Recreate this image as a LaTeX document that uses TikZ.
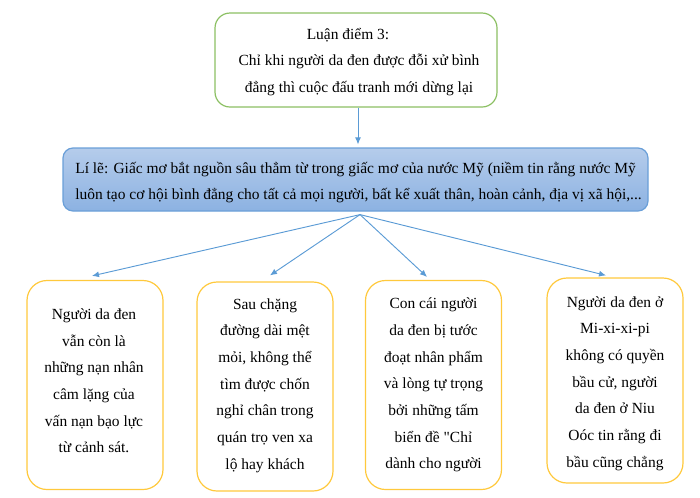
\documentclass[tikz,border=0pt]{standalone}
\usepackage{fontspec}
\setmainfont{Liberation Serif}[Ligatures=TeXOff]
\usetikzlibrary{arrows.meta,calc}
\definecolor{gborder}{HTML}{8CC063}
\definecolor{bborder}{HTML}{6A9FD8}
\definecolor{btop}{HTML}{B5CCEB}
\definecolor{bbot}{HTML}{8CB2E2}
\definecolor{yborder}{HTML}{FFC93C}
\definecolor{arrowc}{HTML}{5B9BD5}
\tikzset{
  basebox/.style={draw, line width=0.9pt, inner sep=0pt},
  topbox/.style={basebox, draw=gborder, rounded corners=11.25pt, fill=white,
    minimum width=211.5pt, minimum height=70.5pt},
  lilebox/.style={basebox, draw=bborder, rounded corners=7.5pt, top color=btop, bottom color=bbot,
    minimum width=438.75pt, minimum height=47.25pt},
  leafbox/.style={basebox, draw=yborder, rounded corners=15pt, fill=white,
    minimum width=102pt, minimum height=156.75pt},
  boxtext/.style={inner sep=0pt, align=center, font=\fontsize{11.6pt}{20pt}\selectfont},
  liletext/.style={boxtext, align=left, font=\fontsize{11.6pt}{19.5pt}\selectfont},
  conn/.style={draw=arrowc, line width=0.7pt, -{Latex[length=5.25pt,width=4.5pt]}}
}
\begin{document}
\begin{tikzpicture}[x=0.75pt,y=-0.75pt]
\useasboundingbox (0,0) rectangle (700,497);
\node[topbox] (top) at (356,60) {};
\node[boxtext] (toptext) at ($(top.center)+(3,2)$) {\hspace*{-16.5pt}Luận điểm 3:\\ Chỉ khi người da đen được đỗi xử bình\\ đẳng thì cuộc đấu tranh mới dừng lại};
\node[lilebox] (lile) at (355.5,179.5) {};
\node[liletext] (liletxt) at ($(lile.center)+(3,3.5)$) {Lí lẽ: Giấc mơ bắt nguồn sâu thẳm từ trong giấc mơ của nước Mỹ (niềm tin rằng nước Mỹ\\ luôn tạo cơ hội bình đẳng cho tất cả mọi người, bất kể xuất thân, hoàn cảnh, địa vị xã hội,...};
\node[leafbox] (b1) at (95,385) {};
\node[boxtext] (t1) at ($(b1.center)+(-1,-4)$) {Người da đen\\ vẫn còn là\\ những nạn nhân\\ câm lặng của\\ vấn nạn bạo lực\\ từ cảnh sát.};
\node[leafbox] (b2) at (265,386.5) {};
\node[boxtext] (t2) at ($(b2.center)+(0,-1)$) {Sau chặng\\ đường dài mệt\\ mỏi, không thể\\ tìm được chốn\\ nghỉ chân trong\\ quán trọ ven xa\\ lộ hay khách};
\node[leafbox] (b3) at (433.5,385) {};
\node[boxtext] (t3) at (b3.center) {Con cái người\\ da đen bị tước\\ đoạt nhân phẩm\\ và lòng tự trọng\\ bởi những tấm\\ biển đề "Chỉ\\ dành cho người};
\node[leafbox, minimum height=153.75pt] (b4) at (615,380.5) {};
\node[boxtext] (t4) at ($(b4.center)+(0,3)$) {Người da đen ở\\ Mi-xi-xi-pi\\ không có quyền\\ bầu cử, người\\ da đen ở Niu\\ Oóc tin rằng đi\\ bầu cũng chẳng};
\coordinate (hub) at ($(lile.south)+(4.5,3)$);
\draw[conn] ($(top.south)+(2,0)$) -- ($(lile.north)+(2.5,-3)$);
\draw[conn] (hub) -- ($(b1.north)+(-3,-4)$);
\draw[conn] (hub) -- ($(b2.north)+(5,-6)$);
\draw[conn] (hub) -- ($(b3.north)+(-6.5,-3)$);
\draw[conn] (hub) -- ($(b4.north)+(-9,-2)$);
\end{tikzpicture}
\end{document}
